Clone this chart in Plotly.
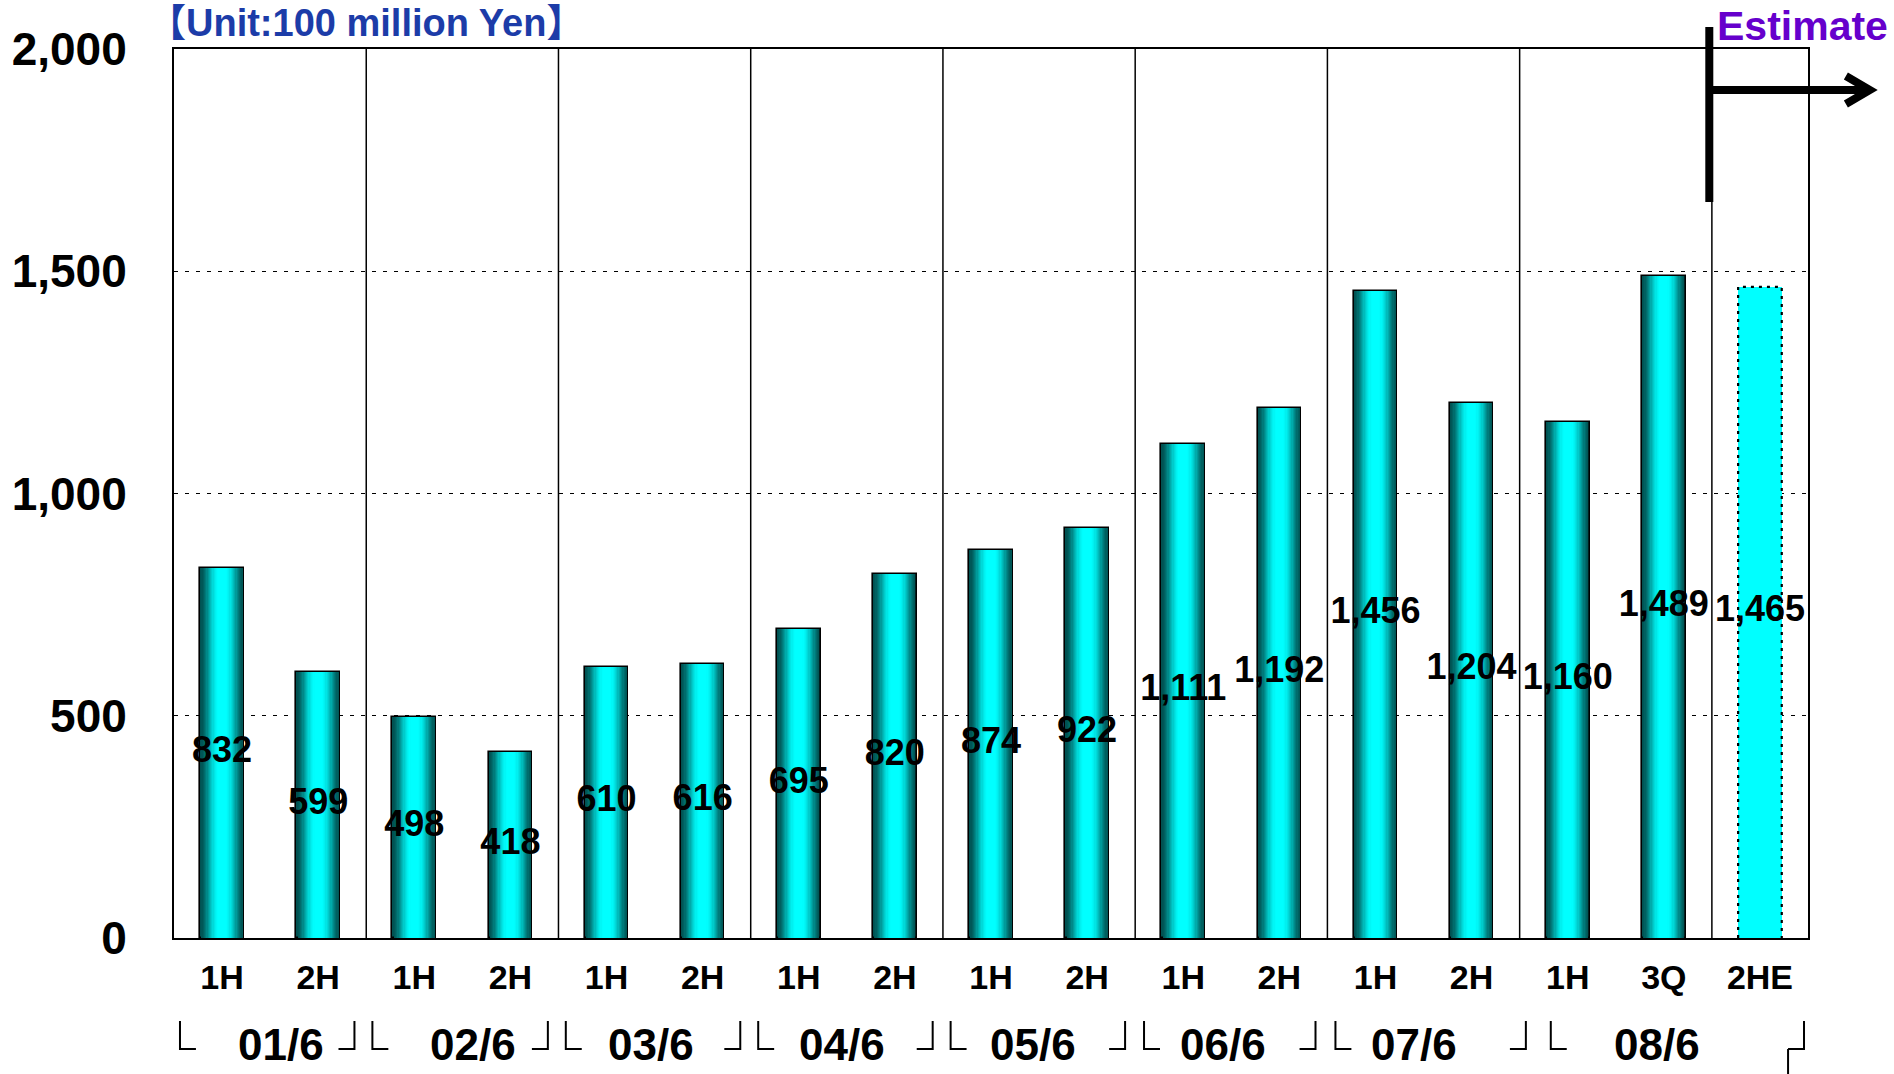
import plotly.graph_objects as go
import math

# ---------------- data ----------------
categories = ["1H", "2H", "1H", "2H", "1H", "2H", "1H", "2H", "1H", "2H",
              "1H", "2H", "1H", "2H", "1H", "3Q", "2HE"]
values = [832, 599, 498, 418, 610, 616, 695, 820, 874, 922,
          1111, 1192, 1456, 1204, 1160, 1489, 1465]
is_estimate = [False] * 16 + [True]
years = ["01/6", "02/6", "03/6", "04/6", "05/6", "06/6", "07/6", "08/6"]
year_sizes = [2, 2, 2, 2, 2, 2, 2, 3]
y_ticks = [0, 500, 1000, 1500, 2000]
unit_label = "【Unit:100 million Yen】"
estimate_label = "Estimate"

# ---------------- geometry helpers (layout only) ----------------
W_PX, H_PX = 1894, 1074
L, R, T, B = 169, 86, 49, 136
PW = W_PX - L - R
PH = H_PX - T - B
n = len(categories)
BAR_W = 0.454


def px_x(px):
    return (px - L) / PW


def px_y(py):
    return (H_PX - B - py) / PH


idx = list(range(n))
act_x = [i for i in idx if not is_estimate[i]]
act_y = [values[i] for i in idx if not is_estimate[i]]
est_x = [i for i in idx if is_estimate[i]]
est_y = [values[i] for i in idx if is_estimate[i]]

fig = go.Figure()

# cylindrical gradient bars: nested overlay bars
N_LAYERS = 18
dark = (0, 82, 82)
light = (0, 255, 255)
h = 0.0
for k in range(N_LAYERS):
    t = k / N_LAYERS
    a = -BAR_W / 2 + (h * BAR_W + BAR_W / 2) * t
    b = BAR_W / 2 - (BAR_W / 2 - h * BAR_W) * t
    f = math.sin(min(1.0, t / 0.85) * math.pi / 2) ** 1.6
    col = tuple(int(round(dark[j] + (light[j] - dark[j]) * f)) for j in range(3))
    fig.add_trace(go.Bar(
        x=act_x, y=act_y, width=b - a, offset=a,
        marker=dict(color="rgb(%d,%d,%d)" % col,
                    line=dict(color="black", width=1.6 if k == 0 else 0)),
        hoverinfo="skip", showlegend=False,
    ))

# estimate bar: plain cyan, dotted outline
fig.add_trace(go.Bar(
    x=est_x, y=est_y, width=BAR_W,
    marker=dict(color="#00FFFF", line=dict(width=0)),
    showlegend=False, hoverinfo="skip",
))
for xi, yi in zip(est_x, est_y):
    fig.add_trace(go.Scatter(
        x=[xi - BAR_W / 2, xi - BAR_W / 2, xi + BAR_W / 2, xi + BAR_W / 2],
        y=[0, yi, yi, 0], mode="lines",
        line=dict(color="black", width=2.2, dash="3px,5px"),
        showlegend=False, hoverinfo="skip",
    ))

# value labels at bar mid-height
fig.add_trace(go.Scatter(
    x=idx, y=[v / 2 for v in values], mode="text",
    text=[f"{v:,}" for v in values],
    textfont=dict(family="Liberation Sans, Arial", size=36, color="black",
                  weight="bold"),
    textposition="middle center", cliponaxis=False,
    showlegend=False, hoverinfo="skip",
))

shapes = []
# vertical separators between year groups and before the estimate
bounds = []
c = 0
for s in year_sizes[:-1]:
    c += s
    bounds.append(c - 0.5)
first_est = is_estimate.index(True)
bounds.append(first_est - 0.5)
for bx in bounds:
    shapes.append(dict(type="line", xref="x", yref="y", x0=bx, x1=bx,
                       y0=0, y1=2000, line=dict(color="black", width=1.5),
                       layer="below"))

# estimate marker: thick vertical line + arrow
vx = px_x(1709)
shapes.append(dict(type="line", xref="paper", yref="paper", x0=vx, x1=vx,
                   y0=px_y(202), y1=px_y(27), line=dict(color="black", width=8)))
shapes.append(dict(type="line", xref="paper", yref="paper", x0=vx, x1=px_x(1866),
                   y0=px_y(90), y1=px_y(90), line=dict(color="black", width=8)))
shapes.append(dict(type="path", xref="paper", yref="paper",
                   path="M %f,%f L %f,%f L %f,%f" % (
                       px_x(1846), px_y(76), px_x(1870), px_y(90),
                       px_x(1846), px_y(104)),
                   line=dict(color="black", width=8)))

# year brackets under the axis (pixel-placed decorations)
left_corners = [175, 368, 562, 755, 948, 1142, 1334, 1550]
right_corners = [350, 544, 737, 930, 1123, 1314, 1525, 1804]
by0, by1, arm = 1021, 1049, 16
for lx in left_corners:
    shapes.append(dict(type="path", xref="paper", yref="paper",
                       path="M %f,%f L %f,%f L %f,%f" % (
                           px_x(lx), px_y(by0), px_x(lx), px_y(by1),
                           px_x(lx + arm), px_y(by1)),
                       line=dict(color="black", width=2)))
for rx in right_corners:
    shapes.append(dict(type="path", xref="paper", yref="paper",
                       path="M %f,%f L %f,%f L %f,%f" % (
                           px_x(rx - arm), px_y(by1), px_x(rx), px_y(by1),
                           px_x(rx), px_y(by0)),
                       line=dict(color="black", width=2)))
shapes.append(dict(type="line", xref="paper", yref="paper",
                   x0=px_x(1788), x1=px_x(1788), y0=px_y(by1), y1=px_y(1074),
                   line=dict(color="black", width=2)))

annotations = []
year_px = [229, 388, 536, 695, 853, 1011, 1170, 1371]
for lab, xp in zip(years, year_px):
    annotations.append(dict(
        xref="paper", yref="paper", x=px_x(xp * 1894 / 1568), y=px_y(1044),
        text=lab, showarrow=False, xanchor="center", yanchor="middle",
        font=dict(family="Liberation Sans, Arial",
                  size=44, color="black", weight="bold")))

annotations.append(dict(
    xref="paper", yref="paper", x=px_x(141), y=px_y(23), text=unit_label,
    showarrow=False, xanchor="left", yanchor="middle",
    font=dict(family="Liberation Sans, Noto Sans CJK JP, Arial", size=38,
              color="#1c3ca8", weight="bold")))
annotations.append(dict(
    xref="paper", yref="paper", x=px_x(1802), y=px_y(26), text=estimate_label,
    showarrow=False, xanchor="center", yanchor="middle",
    font=dict(family="Liberation Sans, Arial", size=41,
              color="#6600cc", weight="bold")))

fig.update_layout(
    width=W_PX, height=H_PX, autosize=False,
    margin=dict(l=L, r=R, t=T, b=B, pad=0),
    paper_bgcolor="white", plot_bgcolor="white",
    barmode="overlay", bargap=0,
    shapes=shapes, annotations=annotations,
    xaxis=dict(
        range=[-0.5, n - 0.5], tickmode="array", tickvals=idx,
        ticktext=categories, showgrid=False, zeroline=False,
        showline=True, linecolor="black", linewidth=2, mirror=True,
        ticks="", ticklabelstandoff=8,
        tickfont=dict(family="Liberation Sans, Arial",
                      size=34, color="black", weight="bold"),
    ),
    yaxis=dict(
        range=[0, 2000], tickmode="array", tickvals=y_ticks,
        ticktext=[f"{v:,}" for v in y_ticks],
        showgrid=True, gridcolor="black", gridwidth=1, griddash="4px,7px",
        zeroline=False, showline=True, linecolor="black", linewidth=2,
        mirror=True, ticks="", ticklabelstandoff=36,
        tickfont=dict(family="Liberation Sans, Arial", size=46,
                      color="black", weight="bold"),
    ),
)

fig.write_html("out.html")
